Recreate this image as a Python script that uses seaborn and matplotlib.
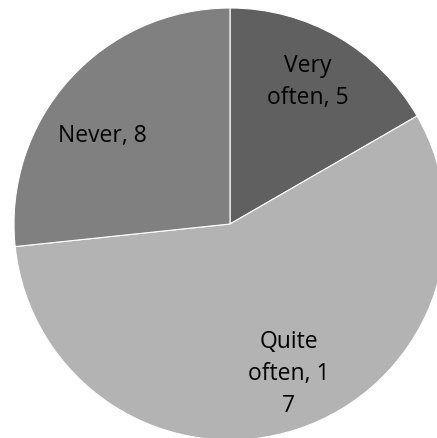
import numpy as np
import matplotlib
matplotlib.use("Agg")
import matplotlib.pyplot as plt
import seaborn as sns

# Survey answers: how often the activity happens
categories = ["Very often", "Quite often", "Never"]
counts = [5, 17, 8]
label_texts = ["Very\noften, 5", "Quite\noften, 1\n7", "Never, 8"]

sns.set_theme(style="white")
plt.rcParams["font.family"] = ["Open Sans", "DejaVu Sans"]

colors = ["#606060", "#b3b3b3", "#808080"]

W, H = 437, 438
fig = plt.figure(figsize=(W / 100, H / 100), dpi=100)
ax = fig.add_axes([0, 0, 1, 1])

wedges, texts = ax.pie(
    counts,
    labels=label_texts,
    colors=colors,
    startangle=90,
    counterclock=False,
    radius=1.0,
    labeldistance=0.74,
    wedgeprops=dict(edgecolor="white", linewidth=0.8),
    textprops=dict(fontsize=16.5, color="black", ha="center", va="center",
                   linespacing=1.45),
)

# Nudge label positions inside their slices
offsets = [(-0.01, 0.016), (0.044, 0.01), (-0.043, -0.088)]
for t, (dx, dy) in zip(texts, offsets):
    x, y = t.get_position()
    t.set_position((x + dx, y + dy))
    t.set_horizontalalignment("center")
    t.set_verticalalignment("center")
    t.set_multialignment("center")

# Pie occupies a 216 px radius circle centred at (230, 224) px
r_px = 216.0
cx, cy = 230.0, 224.0
ax.set_xlim(-cx / r_px, (W - cx) / r_px)
ax.set_ylim(-(H - cy) / r_px, cy / r_px)
ax.set_aspect("auto")
ax.axis("off")

fig.savefig("out.png", dpi=100, facecolor="white")
